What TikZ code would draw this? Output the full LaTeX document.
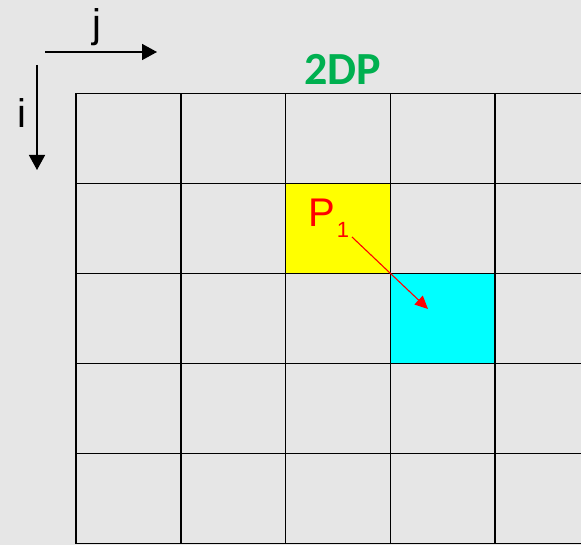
\documentclass[tikz,border=0pt]{standalone}
\usepackage{fontspec}
\setmainfont{Liberation Sans}
\newfontfamily\titlefont{Carlito}
\usepackage{xcolor}
\usetikzlibrary{arrows.meta,calc}

\definecolor{bggray}{HTML}{E6E6E6}
\definecolor{dpgreen}{HTML}{00B050}
\definecolor{cellyellow}{HTML}{FFFF00}
\definecolor{cellcyan}{HTML}{00FFFF}
\definecolor{stepred}{HTML}{FF0000}

\begin{document}
\begin{tikzpicture}[x=1pt, y=-1pt,
    cell/.style={rectangle, draw=black, line width=1.5pt, inner sep=0pt, outer sep=0pt, minimum width=104.8pt, minimum height=90pt, anchor=north west},
    axis/.style={draw, line width=1.6pt, -{Triangle[length=15pt, width=16pt]}},
    move/.style={draw=stepred, line width=1.1pt, -{Triangle[length=13pt, width=12pt]}}
]
    % Canvas
    \useasboundingbox (0,0) rectangle (581,545);
    \fill [bggray] (0,0) rectangle (581,545);

    % Index directions
    \node [font=\fontsize{40}{40}\selectfont, anchor=base] (jlab) at (97,38) {j};
    \node [font=\fontsize{40}{40}\selectfont, anchor=base] (ilab) at (22,128) {i};
    \coordinate (jfrom) at (45,52);
    \coordinate (jto) at (157,52);
    \coordinate (ifrom) at (37,65);
    \coordinate (ito) at (37,170);
    \path [axis] (jfrom) -- (jto);
    \path [axis] (ifrom) -- (ito);

    % Title
    \node [font=\titlefont\bfseries\fontsize{46}{46}\selectfont, text=dpgreen, anchor=base] (title) at (343,85) {2DP};

    % Table cells, last column runs off the edge
    \begin{scope}
        \clip (0,0) rectangle (581,545);
        \foreach \r in {0,...,4} {
            \foreach \c in {0,...,5} {
                \node [cell] (c\r\c) at (76+104.8*\c, 93.5+90*\r) {};
            }
        }
        \node [cell, fill=cellyellow] (c12) at (76+104.8*2, 93.5+90) {};
        \node [cell, fill=cellcyan] (c23) at (76+104.8*3, 93.5+180) {};
    \end{scope}

    % Step P1 from the yellow cell to the cyan one
    \node [text=stepred, font=\fontsize{40}{40}\selectfont, anchor=base west, inner sep=0pt] (p1) at (308,227) {P\hspace{2pt}\raisebox{-11pt}{\fontsize{22}{22}\selectfont 1}};
    \coordinate (ptail) at (352,237);
    \coordinate (phead) at (428,309);
    \path [move] (ptail) -- (phead);
\end{tikzpicture}
\end{document}
